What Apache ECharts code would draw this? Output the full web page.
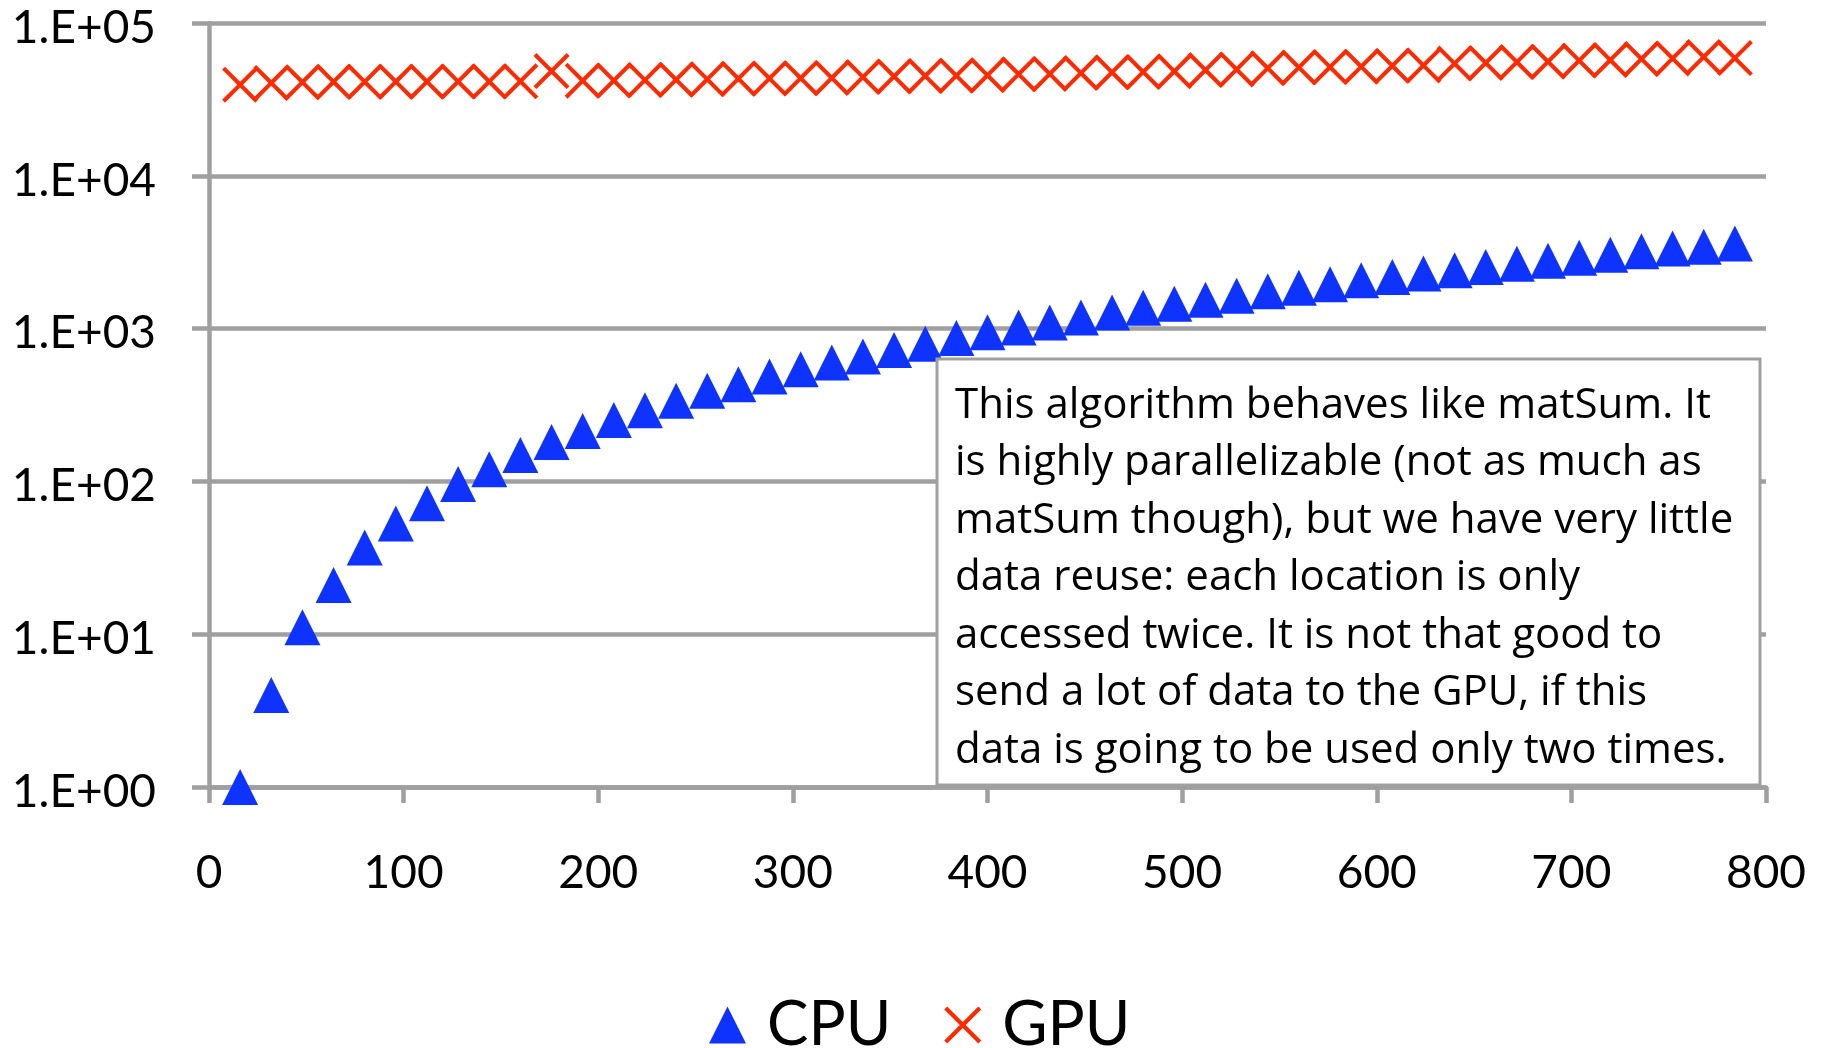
<!DOCTYPE html>
<html>
<head>
<meta charset="utf-8">
<title>CPU vs GPU</title>
<script src="https://cdn.jsdelivr.net/npm/echarts@6/dist/echarts.min.js"></script>
<style>
    html, body { margin: 0; padding: 0; background: #ffffff; }
    #visualisation { width: 1822px; height: 1048px; }
</style>
</head>
<body>
<div id="visualisation"></div>
<script>
// Data.
let xValues = [16, 32, 48, 64, 80, 96, 112, 128, 144, 160, 176, 192, 208, 224, 240, 256,
    272, 288, 304, 320, 336, 352, 368, 384, 400, 416, 432, 448, 464, 480, 496, 512,
    528, 544, 560, 576, 592, 608, 624, 640, 656, 672, 688, 704, 720, 736, 752, 768, 784];

let cpuValues = [1.0, 4.0, 11.1, 21, 37, 53, 72, 96, 120, 149, 181, 214, 252, 292, 337, 392,
    433, 485, 541, 600, 657, 723, 797, 867, 945, 1018, 1098, 1184, 1273, 1370, 1456, 1546,
    1641, 1753, 1850, 1950, 2070, 2176, 2290, 2405, 2528, 2660, 2785, 2914, 3040, 3206, 3340, 3428, 3600];

let gpuValues = [39500, 40500, 41000, 41200, 41200, 41300, 41300, 41400, 41400, 41500, 48500, 41900,
    42000, 42300, 42600, 42800, 43200, 43400, 43500, 43700, 44300, 44700, 45000, 45200, 45500,
    46200, 46400, 47000, 47600, 47800, 48300, 49200, 49700, 50600, 51200, 51500, 51800, 52500,
    52800, 54300, 54800, 55500, 55800, 56800, 57200, 58200, 58600, 60000, 59000];

let seriesNames = ['CPU', 'GPU'];
let xTickLabels = ['0', '100', '200', '300', '400', '500', '600', '700', '800'];
let yTickLabels = ['1.E+00', '1.E+01', '1.E+02', '1.E+03', '1.E+04', '1.E+05'];

let noteLines = [
    'This algorithm behaves like matSum. It',
    'is highly parallelizable (not as much as',
    'matSum though), but we have very little',
    'data reuse: each location is only',
    'accessed twice. It is not that good to',
    'send a lot of data to the GPU, if this',
    'data is going to be used only two times.'
];

// Kruisje als gevulde vorm (ECharts vult path-symbolen).
const crossPath = 'path://M8,0L50,42L92,0L100,8L58,50L100,92L92,100L50,58L8,100L0,92L42,50L0,8Z';

const grey = '#9f9f9f';
const font = 'Lato';

function drawVisualisation() {

    // Maak een lege visualisatie aan.
    let visualisation = echarts.init(document.getElementById('visualisation'));
    window.onresize = () => visualisation.resize();

    let cpuData = xValues.map((x, i) => [x, cpuValues[i]]);
    let gpuData = xValues.map((x, i) => [x, gpuValues[i]]);

    // Configureer de visualisatie.
    let option = {
        animation: false,
        backgroundColor: '#ffffff',
        grid: {
            left: 209,
            right: 56,
            top: 23,
            bottom: 261,
            containLabel: false,
            outerBoundsMode: 'none'
        },
        legend: {
            left: 704,
            top: 989,
            itemWidth: 37,
            itemHeight: 37,
            itemGap: 53,
            textStyle: { fontFamily: font, fontSize: 62, color: '#000', padding: [0, 0, 0, 16] },
            data: [
                { name: seriesNames[0], icon: 'triangle' },
                { name: seriesNames[1], icon: crossPath }
            ]
        },
        xAxis: {
            type: 'value',
            min: 0,
            max: 800,
            interval: 100,
            axisLine: { show: true, lineStyle: { color: grey, width: 4.5 } },
            axisTick: { show: true, length: 16, lineStyle: { color: grey, width: 4.5 } },
            splitLine: { show: false },
            axisLabel: {
                margin: 63,
                fontFamily: font,
                fontSize: 46,
                color: '#000',
                formatter: v => xTickLabels[Math.round(v / 100)]
            }
        },
        yAxis: {
            type: 'log',
            logBase: 10,
            min: 1,
            max: 100000,
            splitNumber: 5,
            axisLine: { show: true, lineStyle: { color: grey, width: 4.5 } },
            axisTick: { show: true, length: 17, lineStyle: { color: grey, width: 4.5 } },
            splitLine: { show: true, lineStyle: { color: grey, width: 4.5 } },
            minorTick: { show: false },
            axisLabel: {
                margin: 53,
                verticalAlign: 'top',
                lineHeight: 10,
                fontFamily: font,
                fontSize: 46,
                color: '#000',
                formatter: v => yTickLabels[Math.round(Math.log10(v))]
            }
        },
        series: [
            {
                name: seriesNames[0],
                type: 'scatter',
                symbol: 'triangle',
                symbolSize: 36,
                itemStyle: { color: '#0f33ff', opacity: 1 },
                data: cpuData
            },
            {
                name: seriesNames[1],
                type: 'scatter',
                symbol: crossPath,
                symbolSize: 36,
                itemStyle: { color: '#ff2a00', opacity: 1 },
                data: gpuData
            }
        ],
        graphic: [
            {
                type: 'rect',
                z: 100,
                shape: { x: 937, y: 359, width: 823, height: 426 },
                style: { fill: '#ffffff', stroke: '#a0a0a0', lineWidth: 3 }
            },
            {
                type: 'text',
                z: 101,
                x: 955,
                y: 377,
                style: {
                    text: noteLines.join('\n'),
                    fontFamily: 'Open Sans',
                    fontSize: 42,
                    lineHeight: 57.5,
                    fill: '#000',
                    verticalAlign: 'top'
                }
            }
        ]
    };

    // Stuur de configuratie door naar de visualisatie.
    visualisation.setOption(option);
}

window.addEventListener('load', drawVisualisation);
</script>
</body>
</html>
